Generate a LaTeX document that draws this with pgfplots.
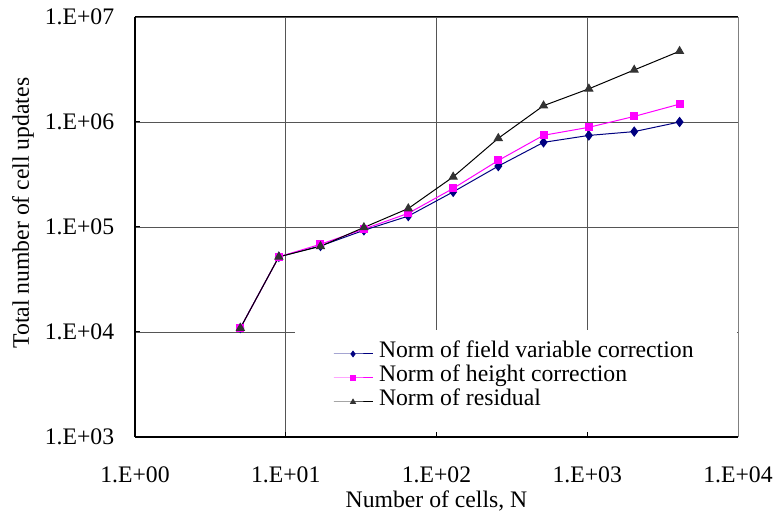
\documentclass[border=0pt]{standalone}
\usepackage{pgfplots}
\pgfplotsset{compat=1.18}
\usepackage{fontspec}
\setmainfont{Liberation Serif}

\definecolor{seriesnavy}{RGB}{0,0,128}
\definecolor{seriesmag}{RGB}{255,0,255}
\definecolor{seriesgray}{RGB}{51,51,51}
\definecolor{gridgray}{RGB}{85,85,85}
\definecolor{framegray}{RGB}{128,128,128}
\newcommand\chartfont{\fontsize{23.7bp}{28bp}\selectfont}

\begin{document}
\begin{tikzpicture}
\useasboundingbox (-135bp,-80bp) rectangle (644bp,437bp);
\begin{axis}[
  at={(0,0)}, anchor=south west,
  scale only axis, width=603bp, height=420bp,
  xmode=log, ymode=log,
  xmin=1, xmax=1e4, ymin=1e3, ymax=1e7,
  xtick={1,10,100,1000,10000},
  xticklabels={1.E+00,1.E+01,1.E+02,1.E+03,1.E+04},
  ytick={1000,10000,100000,1000000,10000000},
  yticklabels={1.E+03,1.E+04,1.E+05,1.E+06,1.E+07},
  xminorticks=false, yminorticks=false,
  xtick pos=bottom, ytick pos=left,
  tick align=inside, major tick length=5bp,
  every tick/.style={black, line width=1bp},
  grid=major, major grid style={gridgray, line width=0.9bp},
  axis line style={draw=none},
  clip=false,
  tick label style={font=\chartfont},
  label style={font=\chartfont},
  xticklabel style={anchor=base, yshift=-46bp, inner sep=0pt},
  yticklabel style={anchor=east, xshift=-20.7bp, inner sep=0pt},
  xlabel={Number of cells, N},
  ylabel={Total number of cell updates},
  xlabel style={at={(rel axis cs:0.5,0)}, anchor=base, yshift=-71bp, inner sep=0pt},
  ylabel style={at={([xshift=-112bp]rel axis cs:0,0.533)}, anchor=center, inner sep=0pt},
  legend cell align=left,
  legend style={at={(rel axis cs:0.3284,0.2262)}, anchor=north west,
    draw=none, fill=none, inner sep=0pt, outer sep=0pt, row sep=0pt,
    nodes={inner sep=0pt, text height=16bp, text depth=8bp},
    font=\chartfont},
  legend image code/.code={%
    \draw[mark repeat=2, mark phase=2, mark size=0.6*\pgfplotmarksize]
      plot coordinates {(0bp,0bp) (19.5bp,0bp) (39bp,0bp)};
    \path (0bp,0bp) (45bp,0bp);},
]
% blank area behind the legend
\fill[white] (rel axis cs:0.2653,0.012) rectangle (rel axis cs:0.998,0.2548);
% frame
\draw[black, line width=1bp] (rel axis cs:0,1) -- (rel axis cs:1,1);
\draw[framegray, line width=1bp] (rel axis cs:1,0) -- (rel axis cs:1,1);
\draw[black, line width=2bp] (rel axis cs:0,0) -- (rel axis cs:0,1);
\draw[black, line width=2bp] (rel axis cs:0,0) -- (rel axis cs:1,0);

\addplot[color=seriesnavy, line width=1bp, mark=diamond*, mark size=4.5bp,
  mark options={fill=seriesnavy, draw=seriesnavy}]
  coordinates {(5,1.09e4) (9,5.2e4) (17,6.6e4) (33,9.3e4) (65,1.27e5)
    (129,2.16e5) (257,3.8e5) (513,6.4e5) (1025,7.45e5) (2049,8.1e5) (4097,1.0e6)};
\addlegendentry{Norm of field variable correction}

\addplot[color=seriesmag, line width=1bp, mark=square*, mark size=3.5bp,
  mark options={fill=seriesmag, draw=seriesmag}]
  coordinates {(5,1.09e4) (9,5.2e4) (17,6.85e4) (33,9.55e4) (65,1.35e5)
    (129,2.33e5) (257,4.3e5) (513,7.47e5) (1025,8.9e5) (2049,1.13e6) (4097,1.48e6)};
\addlegendentry{Norm of height correction}

\addplot[color=black, line width=1bp, mark=triangle*, mark size=4.5bp,
  mark options={fill=seriesgray, draw=seriesgray}]
  coordinates {(5,1.09e4) (9,5.2e4) (17,6.55e4) (33,9.9e4) (65,1.5e5)
    (129,3.0e5) (257,7.0e5) (513,1.43e6) (1025,2.07e6) (2049,3.13e6) (4097,4.72e6)};
\addlegendentry{Norm of residual}
\end{axis}
\end{tikzpicture}
\end{document}
